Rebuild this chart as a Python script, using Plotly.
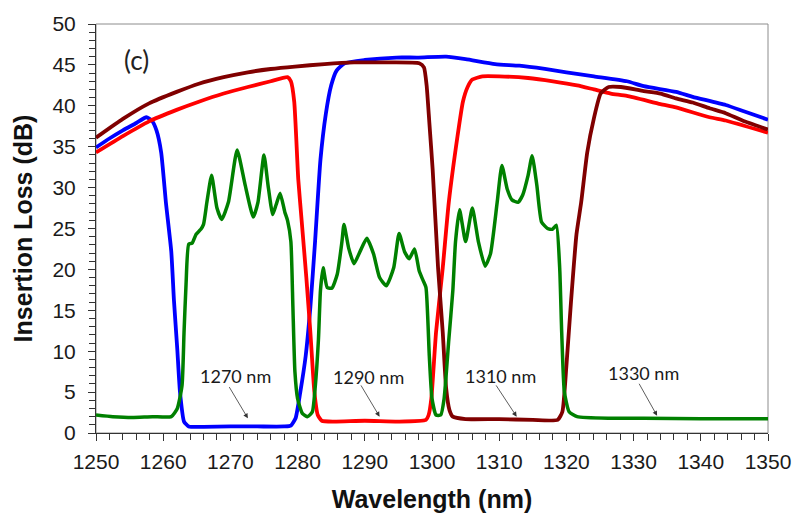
import plotly.graph_objects as go

# Insertion-loss spectra of four CWDM channels (wavelength in nm, loss in dB)
wl_blue = [1250, 1252, 1254, 1256, 1257.5, 1258.3, 1259.0, 1259.7, 1260.4, 1261.2,
           1261.6, 1262.1, 1262.5, 1263.1, 1263.8, 1266, 1270, 1274, 1278, 1279.0,
           1279.7, 1280.4, 1281.2, 1281.9, 1282.6, 1283.4, 1284.2, 1285.0, 1285.8,
           1287.0, 1290, 1294.7, 1298, 1302.1, 1305, 1309.4, 1313, 1316.8, 1320,
           1324.1, 1329.0, 1331.5, 1336.3, 1338.8, 1343.7, 1346.5, 1350]
il_blue = [34.9, 36.0, 37.0, 37.9, 38.6, 38.2, 37.0, 34.3, 28.2, 22.2,
           16.2, 10.2, 5.0, 1.4, 0.8, 0.75, 0.8, 0.8, 0.8, 0.9,
           1.8, 5.0, 9.4, 15.4, 23.4, 33.4, 39.0, 42.5, 44.3,
           45.2, 45.6, 45.9, 45.9, 46.0, 45.7, 45.1, 44.9, 44.5, 44.1,
           43.6, 43.0, 42.4, 41.7, 41.1, 40.1, 39.3, 38.3]

wl_red = [1250, 1254, 1257.9, 1262, 1265.3, 1269, 1272.6, 1276, 1278.5, 1279.0,
          1279.5, 1280.1, 1280.6, 1281.3, 1281.9, 1282.5, 1283.0, 1283.6, 1285.4,
          1290, 1295, 1299.1, 1299.5, 1299.9, 1300.6, 1301.6, 1302.5, 1303.8,
          1304.6, 1305.3, 1306.0, 1307.5, 1310, 1314.3, 1318, 1321.6, 1324.1,
          1326.6, 1329.0, 1334.0, 1336.3, 1341.3, 1343.7, 1350]
il_red = [34.3, 36.3, 38.1, 39.5, 40.5, 41.5, 42.3, 43.0, 43.5, 43.0,
          40.5, 31.0, 26.0, 19.0, 12.3, 5.0, 2.2, 1.5, 1.4,
          1.5, 1.4, 1.6, 2.2, 4.2, 12.3, 20.2, 28.2, 36.3,
          40.5, 42.3, 43.2, 43.6, 43.6, 43.4, 43.0, 42.5, 42.0,
          41.5, 41.2, 40.2, 39.8, 38.6, 38.2, 36.7]

wl_maroon = [1250, 1254, 1257.9, 1262, 1265.3, 1269, 1272.6, 1276, 1279.6, 1284,
             1288.4, 1293, 1298.1, 1298.8, 1299.2, 1299.6, 1300.1, 1300.9, 1301.6,
             1302.1, 1302.6, 1303.1, 1305.0, 1310, 1315, 1318.7, 1319.4, 1320.0,
             1320.7, 1321.5, 1322.2, 1323.1, 1324.1, 1325.1, 1326.3, 1328.1,
             1331.5, 1334.0, 1336.3, 1338.8, 1341.3, 1343.7, 1346.2, 1350]
il_maroon = [36.1, 38.4, 40.3, 41.7, 42.7, 43.5, 44.1, 44.5, 44.8, 45.1,
             45.3, 45.3, 45.2, 44.7, 42.5, 38.0, 32.2, 20.2, 12.3,
             5.5, 2.8, 2.0, 1.7, 1.7, 1.6, 1.6, 2.6, 8.2,
             16.2, 24.3, 28.2, 34.3, 38.5, 41.5, 42.3, 42.3,
             41.8, 41.5, 40.9, 40.4, 39.7, 39.1, 38.2, 37.1]

wl_green = [1250, 1252.5, 1255.4, 1258.4, 1261.2, 1262.1, 1262.8, 1263.1, 1263.4,
            1263.8, 1264.3, 1264.9, 1265.6, 1266.0, 1266.5, 1267.2, 1268.0, 1268.7,
            1269.7, 1271.0, 1272.2, 1273.4, 1274.1, 1275.0, 1275.6, 1276.3, 1276.8,
            1277.4, 1278.1, 1278.5, 1279.0, 1279.3, 1279.6, 1280.0, 1280.7, 1281.5,
            1282.2, 1282.6, 1283.1, 1283.4, 1283.8, 1284.4, 1285.1, 1285.9, 1286.6,
            1286.9, 1287.6, 1288.4, 1289.3, 1290.3, 1291.3, 1292.2, 1293.2, 1294.3,
            1295.1, 1295.9, 1296.6, 1297.4, 1298.1, 1298.7, 1299.1, 1299.6, 1300.0,
            1300.6, 1301.3, 1301.8, 1302.5, 1303.1, 1303.5, 1304.1, 1305.0, 1306.0,
            1306.9, 1307.9, 1308.7, 1309.7, 1310.4, 1311.2, 1311.9, 1312.8, 1313.5,
            1314.3, 1314.9, 1315.6, 1316.3, 1317.2, 1317.9, 1318.5, 1319.0, 1319.3,
            1319.7, 1320.4, 1321.6, 1326.6, 1331.5, 1340, 1350]
il_green = [2.2, 2.0, 1.9, 2.0, 2.0, 3.0, 5.8, 12.3, 18.2,
            23.1, 23.2, 24.3, 24.9, 25.5, 28.2, 31.5, 27.5, 26.1,
            28.2, 34.6, 30.3, 26.4, 28.2, 34.0, 30.3, 26.7, 27.9,
            29.3, 27.0, 26.0, 23.4, 15.4, 7.5, 4.2, 2.4, 2.0,
            2.6, 5.4, 11.4, 17.4, 20.2, 17.8, 17.7, 19.4, 23.4,
            25.5, 22.6, 20.7, 22.2, 23.8, 21.9, 19.0, 18.0, 20.2,
            24.4, 22.2, 21.3, 22.5, 19.8, 18.6, 17.8, 9.4, 4.2,
            2.2, 2.2, 4.2, 11.4, 17.4, 23.4, 27.3, 23.4, 27.5,
            23.4, 20.4, 21.9, 28.2, 32.7, 29.8, 28.5, 28.2, 29.1,
            31.5, 33.9, 30.3, 25.8, 25.0, 24.9, 25.4, 20.2, 12.3,
            5.0, 2.6, 2.0, 1.8, 1.8, 1.75, 1.75]

# Channel labels: text position, arrow tail and arrow head (data units)
channel_labels = ["1270 nm", "1290 nm", "1310 nm", "1330 nm"]
label_pos = [(1270.7, 7.0), (1290.6, 6.9), (1310.2, 7.0), (1331.5, 7.3)]
arrow_tail = [(1269.7, 5.8), (1289.3, 6.0), (1309.4, 6.0), (1330.7, 6.2)]
arrow_head = [(1272.6, 1.8), (1292.2, 2.0), (1312.6, 2.0), (1333.5, 2.1)]

series = [
    (wl_blue, il_blue, "rgb(0,0,255)", 3.8),
    (wl_red, il_red, "rgb(255,0,0)", 3.8),
    (wl_maroon, il_maroon, "rgb(128,0,0)", 3.8),
    (wl_green, il_green, "rgb(0,128,0)", 3.5),
]

fig = go.Figure()
for xs, ys, col, w in series:
    fig.add_trace(go.Scatter(x=xs, y=ys, mode="lines",
                             line=dict(color=col, width=w, shape="spline", smoothing=0.5),
                             showlegend=False, hoverinfo="skip"))

for txt, (tx, ty), (ax, ay), (hx, hy) in zip(channel_labels, label_pos, arrow_tail, arrow_head):
    fig.add_annotation(x=hx, y=hy, ax=ax, ay=ay, xref="x", yref="y",
                       axref="x", ayref="y", text="", showarrow=True,
                       arrowhead=2, arrowsize=1.2, arrowwidth=0.8,
                       arrowcolor="#333333")
    fig.add_annotation(x=tx, y=ty, xref="x", yref="y", text=txt,
                       showarrow=False,
                       font=dict(family="Lato", size=18, color="#1a1a1a"))

fig.add_annotation(x=1256.0, y=45.6, xref="x", yref="y", text="(c)",
                   showarrow=False,
                   font=dict(family="Lato", size=26, color="#222222"))

# Light frame on top and right
fig.add_shape(type="rect", xref="paper", yref="paper", x0=0, y0=0, x1=1, y1=1,
              line=dict(color="#8c8c8c", width=1), layer="below")

tick_font = dict(family="Liberation Sans, Arial", size=21, color="#1a1a1a")
title_font = dict(family="Liberation Sans, Arial", size=25, color="#111111")

fig.update_layout(
    width=803, height=521,
    margin=dict(l=96, r=27, t=19, b=86),
    paper_bgcolor="white", plot_bgcolor="white",
    xaxis=dict(range=[1250, 1350], dtick=10, tick0=1250,
               ticks="outside", ticklen=7, tickwidth=1, tickcolor="#333333",
               showline=True, linecolor="#333333", linewidth=1,
               showgrid=False, zeroline=False, tickfont=tick_font,
               ticklabelstandoff=3,
               minor=dict(dtick=2, ticks="outside", ticklen=6, tickcolor="#333333"),
               title=dict(text="<b>Wavelength (nm)</b>", font=title_font, standoff=18)),
    yaxis=dict(range=[0, 50], dtick=5, tick0=0,
               ticks="outside", ticklen=7, tickwidth=1, tickcolor="#333333",
               showline=True, linecolor="#333333", linewidth=1,
               showgrid=False, zeroline=False, tickfont=tick_font,
               ticklabelstandoff=8,
               minor=dict(dtick=1, ticks="outside", ticklen=6, tickcolor="#333333"),
               title=dict(text="<b>Insertion Loss (dB)</b>", font=title_font, standoff=12)),
)

fig.write_html("out.html")
